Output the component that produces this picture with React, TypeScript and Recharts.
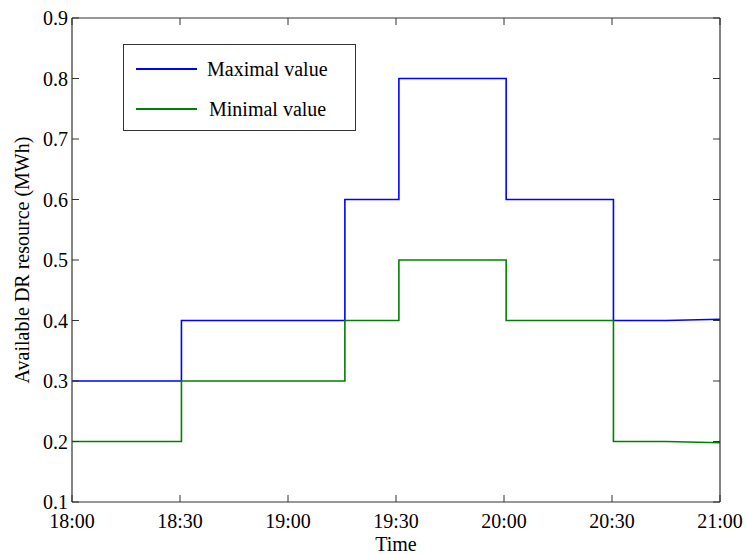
import React from 'react';
import { LineChart, Line, XAxis, YAxis, Legend } from 'recharts';

const maxTimes = [0, 30.4, 30.4, 75.8, 75.8, 90.8, 90.8, 120.6, 120.6, 150.4, 150.4, 165, 180];
const maxValues = [0.3, 0.3, 0.4, 0.4, 0.6, 0.6, 0.8, 0.8, 0.6, 0.6, 0.4, 0.4, 0.402];
const minTimes = [0, 30.4, 30.4, 75.8, 75.8, 90.8, 90.8, 120.6, 120.6, 150.4, 150.4, 165, 180];
const minValues = [0.2, 0.2, 0.3, 0.3, 0.4, 0.4, 0.5, 0.5, 0.4, 0.4, 0.2, 0.2, 0.198];

const xTicks = [0, 30, 60, 90, 120, 150, 180];
const xTickLabels = ['18:00', '18:30', '19:00', '19:30', '20:00', '20:30', '21:00'];
const yTicks = [0.1, 0.2, 0.3, 0.4, 0.5, 0.6, 0.7, 0.8, 0.9];

const seriesNames = ['Maximal value', 'Minimal value'];
const seriesColors = ['#0000ff', '#008000'];

const maxData = maxTimes.map((t, i) => ({ t, v: maxValues[i] }));
const minData = minTimes.map((t, i) => ({ t, v: minValues[i] }));

const FONT = '"Liberation Serif", "Times New Roman", serif';
const AXIS = '#333';
const TL = 7;

const BottomTick = (props: any) => {
  const { x, y, payload } = props;
  const idx = xTicks.indexOf(payload.value);
  return (
    <g>
      <line x1={x} x2={x} y1={y} y2={y - TL} stroke={AXIS} strokeWidth={1} />
      <text x={x} y={y + 26} textAnchor="middle" fontFamily={FONT} fontSize={20} fill="#000">
        {xTickLabels[idx]}
      </text>
    </g>
  );
};

const TopTick = (props: any) => {
  const { x, y } = props;
  return <line x1={x} x2={x} y1={y} y2={y + TL} stroke={AXIS} strokeWidth={1} />;
};

const LeftTick = (props: any) => {
  const { x, y, payload } = props;
  return (
    <g>
      <line x1={x} x2={x + TL} y1={y} y2={y} stroke={AXIS} strokeWidth={1} />
      <text x={x - 4} y={y} dy="0.35em" textAnchor="end" fontFamily={FONT} fontSize={20} fill="#000">
        {Number(payload.value).toFixed(1)}
      </text>
    </g>
  );
};

const RightTick = (props: any) => {
  const { x, y } = props;
  return <line x1={x} x2={x - TL} y1={y} y2={y} stroke={AXIS} strokeWidth={1} />;
};

const LegendBox = () => (
  <div
    style={{
      position: 'absolute',
      left: 123,
      top: 44,
      width: 231,
      height: 85,
      border: '1px solid #333',
      background: '#fff',
      fontFamily: FONT,
      fontSize: 20,
      color: '#000',
    }}
  >
    {seriesNames.map((name, i) => (
      <div
        key={name}
        style={{ position: 'absolute', left: 12, top: 10 + i * 40, height: 28, display: 'flex', alignItems: 'center' }}
      >
        <div style={{ width: 61, height: 0, borderTop: `2px solid ${seriesColors[i]}` }} />
        <span style={{ marginLeft: 10 + i * 2, whiteSpace: 'nowrap' }}>{name}</span>
      </div>
    ))}
  </div>
);

export default function App() {
  return (
    <div style={{ position: 'absolute', left: 0, top: 0, width: 747, height: 554, background: '#fff' }}>
      <LineChart width={747} height={554} margin={{ top: 0, right: 0, bottom: 0, left: 0 }}>
        <XAxis
          dataKey="t"
          type="number"
          domain={[0, 180]}
          ticks={xTicks}
          interval={0}
          allowDataOverflow
          height={52}
          tickSize={0}
          tickMargin={0}
          tick={<BottomTick />}
          axisLine={{ stroke: AXIS, strokeWidth: 1.2 }}
          tickLine={false}
          label={{ value: 'Time', position: 'insideBottom', offset: 3, style: { fontFamily: FONT, fontSize: 20, fill: '#000' } }}
        />
        <XAxis
          xAxisId="top"
          orientation="top"
          dataKey="t"
          type="number"
          domain={[0, 180]}
          ticks={xTicks}
          interval={0}
          allowDataOverflow
          height={18}
          tickSize={0}
          tickMargin={0}
          tick={<TopTick />}
          axisLine={{ stroke: AXIS, strokeWidth: 1.2 }}
          tickLine={false}
        />
        <YAxis
          type="number"
          domain={[0.1, 0.9]}
          ticks={yTicks}
          interval={0}
          allowDataOverflow
          width={72}
          tickSize={0}
          tickMargin={0}
          tick={<LeftTick />}
          axisLine={{ stroke: AXIS, strokeWidth: 1.2 }}
          tickLine={false}
          label={{
            value: 'Available DR resource (MWh)',
            angle: -90,
            position: 'insideLeft',
            offset: 0,
            dx: 22,
            style: { fontFamily: FONT, fontSize: 20, fill: '#000', textAnchor: 'middle' },
          }}
        />
        <YAxis
          yAxisId="r"
          orientation="right"
          type="number"
          domain={[0.1, 0.9]}
          ticks={yTicks}
          interval={0}
          allowDataOverflow
          width={27}
          tickSize={0}
          tickMargin={0}
          tick={<RightTick />}
          axisLine={{ stroke: AXIS, strokeWidth: 1.2 }}
          tickLine={false}
        />
        <Line
          data={maxData}
          dataKey="v"
          name={seriesNames[0]}
          stroke={seriesColors[0]}
          strokeWidth={1.6}
          dot={false}
          type="linear"
          isAnimationActive={false}
        />
        <Line
          data={minData}
          dataKey="v"
          name={seriesNames[1]}
          stroke={seriesColors[1]}
          strokeWidth={1.6}
          dot={false}
          type="linear"
          isAnimationActive={false}
        />
        <Legend content={<LegendBox />} wrapperStyle={{ position: 'absolute', left: 0, top: 0, width: 0, height: 0 }} />
      </LineChart>
    </div>
  );
}
